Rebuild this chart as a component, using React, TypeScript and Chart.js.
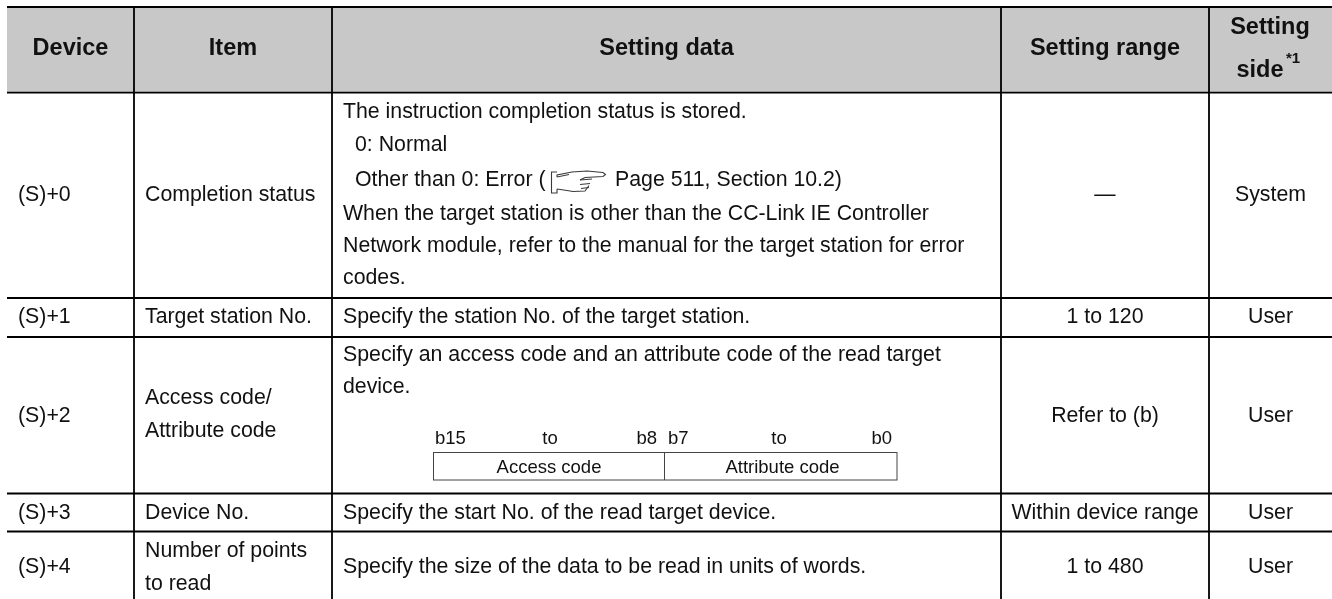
import React, { useEffect, useRef } from "react";
import { Chart, registerables } from "chart.js";

Chart.register(...registerables);

const WIDTH = 1332;
const HEIGHT = 599;

// column and row rules of the table
const columnEdges = [134, 332, 1001, 1209];
const rowEdges = [7, 92.7, 298, 337, 493.5, 531.5];

// header labels
const headers = ["Device", "Item", "Setting data", "Setting range"];
const headerSide = ["Setting", "side"];
const headerNote = "*1";

// table columns
const devices = ["(S)+0", "(S)+1", "(S)+2", "(S)+3", "(S)+4"];
const items = [
  ["Completion status"],
  ["Target station No."],
  ["Access code/", "Attribute code"],
  ["Device No."],
  ["Number of points", "to read"],
];
const settingData = [
  "The instruction completion status is stored.",
  "0: Normal",
  "Other than 0: Error (",
  "Page 511, Section 10.2)",
  "When the target station is other than the CC-Link IE Controller",
  "Network module, refer to the manual for the target station for error",
  "codes.",
  "Specify the station No. of the target station.",
  "Specify an access code and an attribute code of the read target",
  "device.",
  "Specify the start No. of the read target device.",
  "Specify the size of the data to be read in units of words.",
];
const settingRanges = ["—", "1 to 120", "Refer to (b)", "Within device range", "1 to 480"];
const settingSides = ["System", "User", "User", "User", "User"];

// bit diagram
const bitLabels = ["b15", "to", "b8", "b7", "to", "b0"];
const bitFields = ["Access code", "Attribute code"];

const BODY = '21.3px "Liberation Sans", Arial, sans-serif';
const BOLD = 'bold 23.5px "Liberation Sans", Arial, sans-serif';
const SMALL = '18.5px "Liberation Sans", Arial, sans-serif';
const INK = "#111111";

function rule(x0: number, y0: number, x1: number, y1: number) {
  return {
    type: "line" as const,
    data: [{ x: x0, y: y0 }, { x: x1, y: y1 }],
    borderColor: "#000000",
    borderWidth: 1.8,
    pointRadius: 0,
    showLine: true,
  };
}

const tablePlugin = {
  id: "tablePlugin",
  beforeDatasetsDraw(chart: any) {
    const { ctx, scales } = chart;
    const X = (v: number) => scales.x.getPixelForValue(v);
    const Y = (v: number) => scales.y.getPixelForValue(v);
    ctx.save();
    ctx.fillStyle = "#c8c8c8";
    ctx.fillRect(X(7), Y(rowEdges[0]), X(WIDTH) - X(7), Y(rowEdges[1]) - Y(rowEdges[0]));
    ctx.restore();
  },
  afterDatasetsDraw(chart: any) {
    const { ctx, scales } = chart;
    const X = (v: number) => scales.x.getPixelForValue(v);
    const Y = (v: number) => scales.y.getPixelForValue(v);
    const text = (s: string, x: number, y: number, font: string, align: CanvasTextAlign = "left") => {
      ctx.font = font;
      ctx.textAlign = align;
      ctx.textBaseline = "middle";
      ctx.fillStyle = INK;
      ctx.fillText(s, X(x), Y(y + 1));
    };
    ctx.save();

    // header
    text(headers[0], 70.5, 47.5, BOLD, "center");
    text(headers[1], 233, 47.5, BOLD, "center");
    text(headers[2], 666.5, 47.5, BOLD, "center");
    text(headers[3], 1105, 47.5, BOLD, "center");
    text(headerSide[0], 1270, 26.5, BOLD, "center");
    text(headerSide[1], 1260, 69.5, BOLD, "center");
    text(headerNote, 1286, 57.5, 'bold 15px "Liberation Sans", Arial, sans-serif');

    // first two columns
    const rowY = [194, 316, 415, 512, 566];
    devices.forEach((d, i) => text(d, 18, rowY[i], BODY));
    text(items[0][0], 145, rowY[0], BODY);
    text(items[1][0], 145, rowY[1], BODY);
    text(items[2][0], 145, 397, BODY);
    text(items[2][1], 145, 430, BODY);
    text(items[3][0], 145, rowY[3], BODY);
    text(items[4][0], 145, 550, BODY);
    text(items[4][1], 145, 583, BODY);

    // setting data
    const dataPos: [number, number][] = [
      [343, 111], [355, 144], [355, 179], [615, 179], [343, 213], [343, 245], [343, 277],
      [343, 316], [343, 354], [343, 386], [343, 512], [343, 566],
    ];
    settingData.forEach((s, i) => text(s, dataPos[i][0], dataPos[i][1], BODY));

    // hand icon (page reference)
    ctx.strokeStyle = "#3a3a3a";
    ctx.lineWidth = 1.1;
    const hx = X(551), hy = Y(170);
    const poly = (pts: number[][]) => {
      ctx.beginPath();
      pts.forEach(([a, b], i) => (i ? ctx.lineTo(hx + a, hy + b) : ctx.moveTo(hx + a, hy + b)));
      ctx.stroke();
    };
    poly([[6, 2], [0.5, 2], [0.5, 23], [6, 23], [6, 19]]);
    poly([[6, 7], [6, 5], [21, 2], [36, 1], [52, 2.5], [54.5, 4.5], [52, 6.5], [34, 7.5]]);
    poly([[6, 7], [18, 4.5]]);
    poly([[6, 19], [16, 20.5], [22, 21.5], [34, 21], [38, 15.5]]);
    poly([[29, 10], [41, 9]]);
    poly([[29, 14.5], [39, 13.5]]);
    poly([[30, 18.5], [38, 17.5]]);
    poly([[34, 7.5], [29, 10]]);

    // ranges and sides
    settingRanges.forEach((s, i) => text(s, 1105, rowY[i], BODY, "center"));
    settingSides.forEach((s, i) => text(s, 1270.5, rowY[i], BODY, "center"));

    // bit diagram
    ctx.strokeStyle = "#444444";
    ctx.lineWidth = 1;
    ctx.strokeRect(X(433.5), Y(452.5), X(897) - X(433.5), Y(480) - Y(452.5));
    ctx.beginPath();
    ctx.moveTo(X(664.5), Y(452.5));
    ctx.lineTo(X(664.5), Y(480));
    ctx.stroke();
    text(bitLabels[0], 435, 438, SMALL);
    text(bitLabels[1], 550, 438, SMALL, "center");
    text(bitLabels[2], 657, 438, SMALL, "right");
    text(bitLabels[3], 668, 438, SMALL);
    text(bitLabels[4], 779, 438, SMALL, "center");
    text(bitLabels[5], 892, 438, SMALL, "right");
    text(bitFields[0], 549, 467, SMALL, "center");
    text(bitFields[1], 782.5, 467, SMALL, "center");
    ctx.restore();
  },
};

export default function App() {
  const ref = useRef<HTMLCanvasElement>(null);
  useEffect(() => {
    if (!ref.current) return;
    const datasets = [
      ...rowEdges.map((y) => rule(7, y, WIDTH, y)),
      ...columnEdges.map((x) => rule(x, rowEdges[0], x, HEIGHT)),
    ];
    const chart = new Chart(ref.current, {
      type: "scatter",
      data: { datasets },
      options: {
        animation: false,
        responsive: false,
        layout: { padding: 0 },
        plugins: { legend: { display: false }, tooltip: { enabled: false } },
        scales: {
          x: { type: "linear", min: 0, max: WIDTH, display: false },
          y: { type: "linear", min: 0, max: HEIGHT, reverse: true, display: false },
        },
      },
      plugins: [tablePlugin],
    } as any);
    return () => chart.destroy();
  }, []);
  return (
    <div style={{ position: "fixed", left: 0, top: 0, width: WIDTH, height: HEIGHT, background: "#fff" }}>
      <canvas ref={ref} width={WIDTH} height={HEIGHT} style={{ display: "block" }} />
    </div>
  );
}
